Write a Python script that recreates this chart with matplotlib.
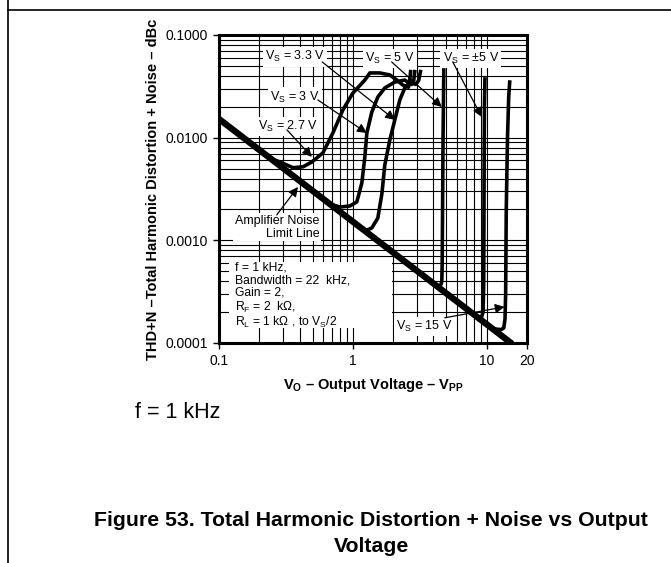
import matplotlib
matplotlib.use('Agg')
import matplotlib.pyplot as plt
from matplotlib.lines import Line2D
from matplotlib.patches import Rectangle
from matplotlib.ticker import FixedLocator, FixedFormatter, LogLocator, NullFormatter

plt.rcParams['font.family'] = ['Liberation Sans', 'DejaVu Sans']
plt.rcParams['mathtext.fontset'] = 'custom'
plt.rcParams['mathtext.rm'] = 'Liberation Sans'
plt.rcParams['mathtext.it'] = 'Liberation Sans:italic'
plt.rcParams['mathtext.bf'] = 'Liberation Sans:bold'

# amplifier noise limit line (THD+N vs Vpp)
noise_v = [0.1, 15.5]
noise_thd = [0.0152, 0.0000981]

# THD+N curves for each supply voltage
vs27_v = [0.24, 0.285, 0.357, 0.424, 0.494, 0.597, 0.709, 0.842, 1.0, 1.229, 1.339, 1.59, 1.89, 2.13, 2.36, 2.6, 2.66, 2.7]
vs27_thd = [0.0063, 0.0058, 0.0051, 0.0052, 0.0058, 0.0071, 0.0111, 0.0186, 0.0272, 0.0364, 0.0427, 0.0427, 0.0408, 0.0364, 0.0326, 0.031, 0.036, 0.044]

vs3_v = [0.55, 0.674, 0.80, 0.95, 1.071, 1.167, 1.229, 1.272, 1.386, 1.537, 1.733, 2.058, 2.44, 2.75, 2.85, 2.9]
vs3_thd = [0.00276, 0.00226, 0.00211, 0.00216, 0.00237, 0.00362, 0.0065, 0.0111, 0.0178, 0.0249, 0.0305, 0.0348, 0.0364, 0.033, 0.036, 0.044]

vs33_v = [1.035, 1.229, 1.386, 1.537, 1.647, 1.733, 1.889, 2.058, 2.243, 2.443, 2.664, 2.95, 3.1, 3.2]
vs33_thd = [0.00147, 0.00123, 0.00132, 0.00165, 0.00283, 0.00542, 0.0095, 0.0149, 0.0233, 0.0305, 0.0348, 0.033, 0.036, 0.044]

vs5_v = [4.0, 4.3, 4.55, 4.62, 4.65, 4.68, 4.72, 4.78]
vs5_thd = [0.00038, 0.00035, 0.00037, 0.0004, 0.0006, 0.002, 0.01, 0.0456]

vspm5_v = [8.6, 9.1, 9.4, 9.5, 9.55, 9.62, 9.7]
vspm5_thd = [0.000177, 0.000175, 0.0002, 0.0004, 0.003, 0.02, 0.0373]

vs15_v = [10.5, 11.5, 12.8, 13.4, 13.7, 13.85, 14.0, 14.3, 14.6, 14.85]
vs15_thd = [0.000145, 0.000137, 0.000135, 0.00014, 0.00017, 0.0003, 0.002, 0.01, 0.025, 0.0348]

y_ticks = [0.0001, 0.001, 0.01, 0.1]
y_labels = ['0.0001', '0.0010', '0.0100', '0.1000']
x_ticks = [0.1, 1, 10, 20]
x_labels = ['0.1', '1', '10', '20']

W, H = 671, 563
fig = plt.figure(figsize=(W / 100, H / 100), dpi=100)
ax = fig.add_axes([219 / W, 1 - 343 / H, 308 / W, 308 / H])

ax.set_xscale('log')
ax.set_yscale('log')
ax.set_xlim(0.1, 20)
ax.set_ylim(0.0001, 0.1)

ax.xaxis.set_major_locator(FixedLocator(x_ticks))
ax.xaxis.set_major_formatter(FixedFormatter(x_labels))
ax.xaxis.set_minor_locator(LogLocator(base=10, subs=range(2, 10)))
ax.xaxis.set_minor_formatter(NullFormatter())
ax.yaxis.set_major_locator(FixedLocator(y_ticks))
ax.yaxis.set_major_formatter(FixedFormatter(y_labels))
ax.yaxis.set_minor_locator(LogLocator(base=10, subs=range(2, 10)))
ax.yaxis.set_minor_formatter(NullFormatter())

ax.grid(which='both', color='black', lw=0.8)
ax.set_axisbelow(True)
ax.tick_params(which='major', direction='out', length=4, width=1, labelsize=10, pad=4)
ax.tick_params(which='minor', length=0)
for s in ax.spines.values():
    s.set_linewidth(2.2)

ax.plot(noise_v, noise_thd, color='black', lw=4.6, solid_capstyle='butt', zorder=5)
for v, t in [(vs27_v, vs27_thd), (vs3_v, vs3_thd), (vs33_v, vs33_thd),
             (vs5_v, vs5_thd), (vspm5_v, vspm5_thd), (vs15_v, vs15_thd)]:
    ax.plot(v, t, color='black', lw=2.6, solid_joinstyle='round', zorder=5)

lab = dict(fontsize=9, ha='center', va='center', zorder=3,
           bbox=dict(fc='white', ec='none', pad=1.5))
arrow = dict(arrowstyle='-|>', color='black', lw=0.9, mutation_scale=14, shrinkA=0, shrinkB=0)

ax.text(0.37, 0.0612, r'V$_\mathregular{S}$ = 3.3 V', **lab)
ax.text(0.37, 0.0249, r'V$_\mathregular{S}$ = 3 V', **lab)
ax.text(0.33, 0.0128, r'V$_\mathregular{S}$ = 2.7 V', **lab)
ax.text(1.9, 0.0590, r'V$_\mathregular{S}$ = 5 V', **lab)
ax.text(7.6, 0.0590, r'V$_\mathregular{S}$ = ±5 V', **lab)
ax.text(3.44, 0.000144, r'V$_\mathregular{S}$ = 15 V', **lab)
ax.text(0.56, 0.00134, 'Amplifier Noise\nLimit Line', fontsize=9, ha='right', va='center',
        linespacing=1.1, zorder=3, bbox=dict(fc='white', ec='none', pad=1.0))

ax.annotate('', xy=(2.06, 0.0149), xytext=(0.59, 0.0546), arrowprops=arrow, zorder=6)
ax.annotate('', xy=(1.27, 0.0111), xytext=(0.548, 0.0233), arrowprops=arrow, zorder=6)
ax.annotate('', xy=(0.494, 0.0065), xytext=(0.322, 0.0119), arrowprops=arrow, zorder=6)
ax.annotate('', xy=(4.62, 0.0199), xytext=(1.95, 0.0546), arrowprops=arrow, zorder=6)
ax.annotate('', xy=(9.18, 0.0159), xytext=(5.58, 0.0546), arrowprops=arrow, zorder=6)
ax.annotate('', xy=(13.6, 0.000225), xytext=(4.86, 0.000176), arrowprops=arrow, zorder=6)
ax.annotate('', xy=(0.389, 0.00331), xytext=(0.27, 0.00177), arrowprops=arrow, zorder=6)

# test conditions block
ax.add_patch(Rectangle((0.032, 0.05), 0.53, 0.212, transform=ax.transAxes,
                       fc='white', ec='none', zorder=2))
cond = ['f = 1 kHz,', 'Bandwidth = 22  kHz,', 'Gain = 2,',
        r'R$_\mathregular{F}$ = 2  kΩ,', r'R$_\mathregular{L}$ = 1 kΩ , to V$_\mathregular{S}$/2']
ax.text(0.052, 0.263, '\n'.join(cond), transform=ax.transAxes, fontsize=8.7,
        ha='left', va='top', linespacing=1.05, zorder=3)

ax.set_xlabel(r'V$_\mathregular{O}$ – Output Voltage – V$_\mathregular{PP}$',
              fontsize=10.5, fontweight='bold', labelpad=6)
ax.set_ylabel('THD+N –Total Harmonic Distortion + Noise – dBc',
              fontsize=10.5, fontweight='bold', labelpad=4)

fig.text(135 / W, 1 - 413 / H, 'f = 1 kHz', fontsize=15.5, ha='left', va='center')
fig.text(371 / W, 1 - 520 / H, 'Figure 53. Total Harmonic Distortion + Noise vs Output',
         fontsize=15.3, fontweight='bold', ha='center', va='center')
fig.text(371 / W, 1 - 547 / H, 'Voltage', fontsize=15.3, fontweight='bold',
         ha='center', va='center')

# page frame lines
fig.add_artist(Line2D([8 / W, 1], [1 - 10 / H, 1 - 10 / H], color='black', lw=1.2))
fig.add_artist(Line2D([8 / W, 8 / W], [0, 1], color='black', lw=1.2))

fig.savefig('out.png', dpi=100)
